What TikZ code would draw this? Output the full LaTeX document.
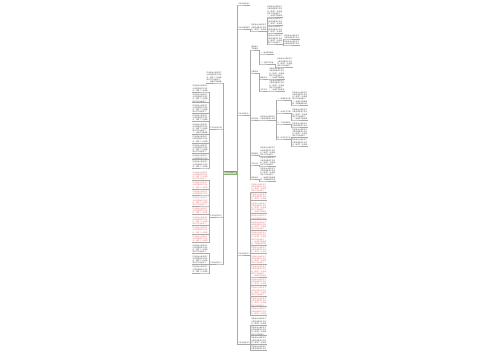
\documentclass[tikz,border=0pt]{standalone}
\usepackage{fontspec}
\newfontfamily\cjk{Noto Sans CJK SC}
\usetikzlibrary{calc}
\definecolor{txt}{HTML}{444444}
\definecolor{redtx}{HTML}{E06666}
\definecolor{lineg}{HTML}{AAAAAA}
\definecolor{rootfill}{HTML}{D5E8D4}
\definecolor{rootdraw}{HTML}{82B366}
\def\La{在领导关心和支持下}
\def\Lb{认真完成各项工作任}
\def\Lc{务，取得了一定成绩}
\def\Ld{现将工作总结如下：}
\def\Le{一、加强学习提高素}
\def\Lf{质，不断更新知识结}
\def\Lg{构，提升业务水平。}
\newcommand\blk[1]{\ifcase#1\or\La\or\La\\\Lb\or\La\\\Lb\\\Lc\or\La\\\Lb\\\Lc\\\Ld\or\La\\\Lb\\\Lc\\\Ld\\\Le\or\La\\\Lb\\\Lc\\\Ld\\\Le\\\Lf\or\La\\\Lb\\\Lc\\\Ld\\\Le\\\Lf\\\Lg\fi}
\begin{document}
\begin{tikzpicture}[x=1pt,y=-1pt,
 tx/.style={font=\cjk\fontsize{1.65}{2.2}\selectfont, inner xsep=0.1pt, inner ysep=0.25pt, align=left, text=txt},
 R/.style={tx,anchor=south west},
 L/.style={tx,anchor=south east},
 blkw/.style={text width=15pt},
 rtx/.style={text=redtx},
 conn/.style={draw=lineg,line width=0.3pt},
 elbow/.style={to path={-| ($(\tikztostart)!0.5!(\tikztotarget)$) |- (\tikztotarget)}},
 rootbox/.style={font=\cjk\fontsize{1.9}{2.3}\selectfont, fill=rootfill, draw=rootdraw, line width=0.3pt, inner xsep=0.8pt, inner ysep=0.7pt, text=txt}
]
\useasboundingbox[fill=white] (0,0) rectangle (500,360);

\node[rootbox] (root) at (230,173) {工作总结范文};

% ---------- right side ----------
\node[R] (r1) at (238,5) {工作总结的含义};
\node[R] (r2) at (238,29) {工作总结的格式};
\node[R,blkw] (r2a) at (251,31) {\blk{3}};
\node[R,blkw] (a1) at (267,17) {\blk{5}};
\node[R,blkw] (a2) at (267,25) {\blk{3}};
\node[R,blkw] (a3) at (267,33) {\blk{3}};
\node[R,blkw] (a4) at (267,44) {\blk{4}};
\node[R,blkw] (e1) at (284,39) {\blk{2}};
\node[R,blkw] (e2) at (284,45) {\blk{2}};

\node[R] (r3) at (238,115) {工作总结范文一};
\node[R] (r3a) at (251,50) {基本情况\\工作概述};
\node[R] (r3a1) at (260,54) {一、基本情况概述};
\node[R] (r3a2) at (260,64) {二、主要工作内容};
\node[R,blkw] (r3a2b) at (277,67) {\blk{4}};
\node[R] (r3b) at (251,73) {主要成绩};
\node[R] (r3b1) at (260,79) {标题写法};
\node[R,blkw] (r3b1b) at (269,79) {\blk{5}};
\node[R] (r3b2) at (260,91) {正文写法};
\node[R,blkw] (r3b2b) at (269,91) {\blk{5}};
\node[R] (r3c) at (251,120) {存在问题};
\node[R,blkw] (r3c1) at (260,120) {\blk{2}};
\node[R] (c1) at (277,100) {一、思想政治方面};
\node[R,blkw] (c1b) at (292,105) {\blk{6}};
\node[R] (c2) at (277,113) {二、业务学习方面};
\node[R,blkw] (c2b) at (292,120) {\blk{5}};
\node[R] (c3) at (277,124) {三、工作完成情况};
\node[R,blkw] (c3b) at (292,127) {\blk{2}};
\node[R] (c4) at (277,139) {四、存在不足之处};
\node[R,blkw] (c4b) at (292,137.5) {\blk{4}};
\node[R,blkw] (c4c) at (292,146) {\blk{3}};
\node[R] (r3d) at (251,155) {改进措施};
\node[R,blkw] (r3db) at (260,156) {\blk{4}};
\node[R] (r3e) at (251,165) {工作计划};
\node[R,blkw] (r3eb) at (260,166) {\blk{4}};
\node[R] (r3f) at (251,179) {经验体会};
\node[R,blkw] (r3fb) at (260,181) {\blk{6}};

\node[R] (r4) at (238,255) {工作总结范文二};
\foreach \y/\n [count=\i] in {192.2/4,200.6/3,213.4/5,219.6/2,230.2/4,245.2/6,253.6/3,264.2/4,277.0/5,285.4/3,296.0/4,306.6/4,315.0/3}
  \node[R,blkw,rtx] (q\i) at (251,\y) {\blk{\n}};

\node[R] (r5) at (238,344) {工作总结范文三};
\foreach \y/\n [count=\i] in {325.0/3,335.6/4,344.0/3,350.2/2}
  \node[R,blkw] (s\i) at (251,\y) {\blk{\n}};

% ---------- left side ----------
\node[L,blkw] (l0) at (222,83) {\blk{5}};
\node[L] (l1) at (222,129) {工作总结范文四};
\foreach \y/\n [count=\i] in {92.0/3,102.6/4,113.2/4,121.6/3,134.4/5,142.8/3,153.4/4,159.6/2,168.0/3}
  \node[L,blkw] (p\i) at (208,\y) {\blk{\n}};
\node[L] (l2) at (222,217) {工作总结范文五};
\foreach \y/\n [count=\i] in {180.4/4,188.8/3,195.0/2,206.0/4,214.4/3,225.4/4,233.8/3,242.2/3}
  \node[L,blkw,rtx] (m\i) at (208,\y) {\blk{\n}};
\node[L] (l3) at (222,264) {工作总结范文六};
\foreach \y/\n [count=\i] in {253.2/4,264.2/4,273.0/3}
  \node[L,blkw] (n\i) at (208,\y) {\blk{\n}};

% ---------- connectors ----------
\foreach \c in {r1,r2,r3,r4,r5}
  \draw[conn] (root.east) to[elbow] (\c.south west) -- (\c.south east);
\draw[conn] (r2.south east) to[elbow] (r2a.south west) -- (r2a.south east);
\foreach \c in {a1,a2,a3,a4}
  \draw[conn] (r2a.south east) to[elbow] (\c.south west) -- (\c.south east);
\foreach \c in {e1,e2}
  \draw[conn] (a4.south east) to[elbow] (\c.south west) -- (\c.south east);
\foreach \c in {r3a,r3b,r3c,r3d,r3e,r3f}
  \draw[conn] (r3.south east) to[elbow] (\c.south west) -- (\c.south east);
\foreach \c in {r3a1,r3a2}
  \draw[conn] (r3a.south east) to[elbow] (\c.south west) -- (\c.south east);
\draw[conn] (r3a2.south east) to[elbow] (r3a2b.south west) -- (r3a2b.south east);
\foreach \c in {r3b1,r3b2}
  \draw[conn] (r3b.south east) to[elbow] (\c.south west) -- (\c.south east);
\draw[conn] (r3b1.south east) to[elbow] (r3b1b.south west) -- (r3b1b.south east);
\draw[conn] (r3b2.south east) to[elbow] (r3b2b.south west) -- (r3b2b.south east);
\draw[conn] (r3c.south east) to[elbow] (r3c1.south west) -- (r3c1.south east);
\foreach \c in {c1,c2,c3,c4}
  \draw[conn] (r3c1.south east) to[elbow] (\c.south west) -- (\c.south east);
\draw[conn] (c1.south east) to[elbow] (c1b.south west) -- (c1b.south east);
\draw[conn] (c2.south east) to[elbow] (c2b.south west) -- (c2b.south east);
\draw[conn] (c3.south east) to[elbow] (c3b.south west) -- (c3b.south east);
\foreach \c in {c4b,c4c}
  \draw[conn] (c4.south east) to[elbow] (\c.south west) -- (\c.south east);
\draw[conn] (r3d.south east) to[elbow] (r3db.south west) -- (r3db.south east);
\draw[conn] (r3e.south east) to[elbow] (r3eb.south west) -- (r3eb.south east);
\draw[conn] (r3f.south east) to[elbow] (r3fb.south west) -- (r3fb.south east);
\foreach \i in {1,...,13}
  \draw[conn] (r4.south east) to[elbow] (q\i.south west) -- (q\i.south east);
\foreach \i in {1,...,4}
  \draw[conn] (r5.south east) to[elbow] (s\i.south west) -- (s\i.south east);

\foreach \c in {l0,l1,l2,l3}
  \draw[conn] (root.west) to[elbow] (\c.south east) -- (\c.south west);
\foreach \i in {1,...,9}
  \draw[conn] (l1.south west) to[elbow] (p\i.south east) -- (p\i.south west);
\foreach \i in {1,...,8}
  \draw[conn] (l2.south west) to[elbow] (m\i.south east) -- (m\i.south west);
\foreach \i in {1,...,3}
  \draw[conn] (l3.south west) to[elbow] (n\i.south east) -- (n\i.south west);
\end{tikzpicture}
\end{document}
